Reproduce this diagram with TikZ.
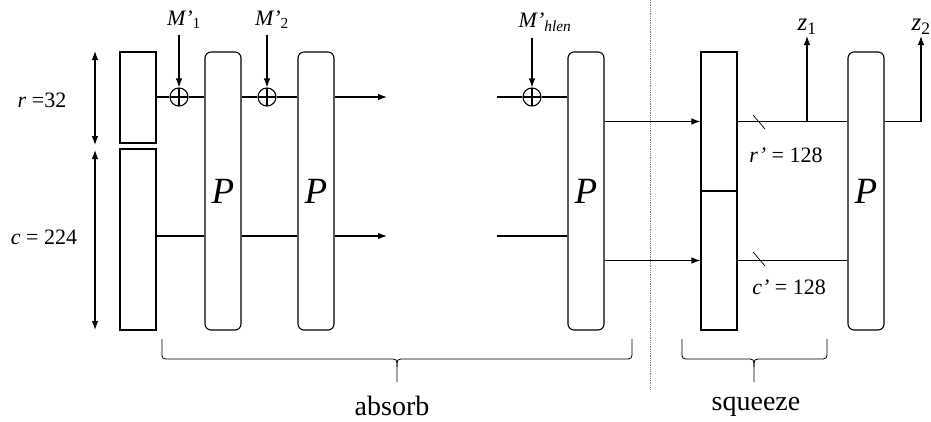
\documentclass[tikz,border=0pt]{standalone}
\usepackage{fontspec}
\setmainfont{Liberation Serif}
\usepackage{tikz}
\usetikzlibrary{arrows.meta, positioning, calc}
\newcommand{\lblsize}{\fontsize{22}{26}\selectfont}
% brace under a phase: left x, tip x, right x
\newcommand{\stagebrace}[3]{%
  \draw[line width=0.8pt] (#1,339) -- (#1,351) .. controls (#1,359) .. (#1+8,359)
    -- (#2-8,359) .. controls (#2,359) .. (#2,367) -- (#2,382);
  \draw[line width=0.8pt] (#2,367) .. controls (#2,359) .. (#2+8,359)
    -- (#3-8,359) .. controls (#3,359) .. (#3,351) -- (#3,339);
}

\begin{document}
\begin{tikzpicture}[
    x=1pt, y=-1pt, line width=1.1pt,
    lbl/.style={font=\lblsize, inner sep=1pt},
    statebox/.style={draw, minimum width=36pt, inner sep=0pt},
    perm/.style={draw, rounded corners=6pt, minimum width=36pt,
                 minimum height=278pt, inner sep=0pt,
                 font=\fontsize{37}{42}\selectfont\itshape},
    xor/.style={draw, circle, minimum size=18pt, inner sep=0pt,
                path picture={
                  \draw (path picture bounding box.north) -- (path picture bounding box.south)
                        (path picture bounding box.west) -- (path picture bounding box.east);}},
    arr/.style={-{Latex[length=9pt, width=6.5pt]}},
    dim/.style={{Latex[length=9pt, width=6.5pt]}-{Latex[length=9pt, width=6.5pt]}},
    cut/.style={line width=0.7pt},
    stagelbl/.style={font=\fontsize{28}{32}\selectfont, anchor=base, inner sep=0pt},
  ]
    \useasboundingbox (0,0) rectangle (931,421);

    % State split into rate and capacity
    \node[statebox, minimum height=91pt]  (statr) at (138,97.5)  {};
    \node[statebox, minimum height=181pt] (statc) at (138,239.5) {};
    \node[lbl] (rlbl) at (42,100) {\textit{r} =32};
    \node[lbl] (clbl) at (44,237) {\textit{c} = 224};
    \coordinate (rtop) at (95,51);
    \coordinate (rbot) at (95,145);
    \coordinate (ctop) at (95,150);
    \coordinate (cbot) at (95,330);
    \draw[dim] (rtop) -- (rbot);
    \draw[dim] (ctop) -- (cbot);

    % Permutations of the absorb phase
    \node[perm] (p1) at (223,191) {P};
    \node[perm] (p2) at (316,191) {P};
    \node[perm] (p3) at (586,191) {P};

    % Message blocks
    \node[xor] (x1) at (179,97) {};
    \node[xor] (x2) at (267,97) {};
    \node[xor] (x3) at (532,97) {};
    \node[lbl] (m1) at (184,20) {\textit{M’}\textsubscript{1}};
    \node[lbl] (m2) at (272,20) {\textit{M’}\textsubscript{2}};
    \node[lbl] (mh) at (545,22) {\textit{M’}\textsubscript{\textit{hlen}}};
    \draw[arr, shorten <=5pt] (m1.south -| x1) -- (x1.north);
    \draw[arr, shorten <=5pt] (m2.south -| x2) -- (x2.north);
    \draw[arr, shorten <=5pt] (mh.south -| x3) -- (x3.north);

    % Rate lines
    \coordinate (r2end)   at (387,97);
    \coordinate (r3start) at (497,97);
    \draw (statr.east |- x1) -- (x1.west);
    \draw (x1.east) -- (p1.west |- x1);
    \draw (p1.east |- x2) -- (x2.west);
    \draw (x2.east) -- (p2.west |- x2);
    \draw[arr] (p2.east |- r2end) -- (r2end);
    \draw (r3start) -- (x3.west);
    \draw (x3.east) -- (p3.west |- x3);

    % Capacity lines
    \coordinate (c2end)   at (387,236);
    \coordinate (c3start) at (497,236);
    \draw (statc.east |- c2end) -- (p1.west |- c2end);
    \draw (p1.east |- c2end) -- (p2.west |- c2end);
    \draw[arr] (p2.east |- c2end) -- (c2end);
    \draw (c3start) -- (p3.west |- c3start);

    % Squeeze phase
    \coordinate (septop) at (650,0);
    \coordinate (sepbot) at (650,390);
    \draw[densely dotted, gray, line width=0.8pt] (septop) -- (sepbot);
    \node[statebox, minimum height=139pt] (sqr) at (719,121.5) {};
    \node[statebox, minimum height=139pt] (sqc) at (719,260.5) {};
    \node[perm] (p4) at (866,191) {P};
    \draw[arr] (p3.east |- sqr.west) -- (sqr.west);
    \draw[arr] (p3.east |- sqc.west) -- (sqc.west);
    \draw (sqr.east) -- (p4.west |- sqr.east);
    \draw (sqc.east) -- (p4.west |- sqc.east);
    \coordinate (rcut) at (759,122);
    \coordinate (ccut) at (759,259);
    \draw[cut] ($(rcut)+(-6,-7)$) -- ($(rcut)+(6,7)$);
    \draw[cut] ($(ccut)+(-6,-7)$) -- ($(ccut)+(6,7)$);
    \node[lbl] (rp) at (786,155) {\textit{r’} = 128};
    \node[lbl] (cp) at (789,287) {\textit{c’} = 128};

    % Outputs
    \coordinate (z1tip) at (807,36);
    \coordinate (z2tip) at (921,36);
    \node[lbl, font=\fontsize{25}{28}\selectfont, above=0pt of z1tip] (z1) {\textit{z}\textsubscript{1}};
    \node[lbl, font=\fontsize{25}{28}\selectfont, above=0pt of z2tip] (z2) {\textit{z}\textsubscript{2}};
    \draw[arr] (z1tip |- sqr.east) -- (z1tip);
    \draw[arr] (p4.east |- sqr.east) -| (z2tip);

    % Phase braces
    \stagebrace{162}{397}{632}
    \stagebrace{682}{754}{827}
    \node[stagelbl] (absorb)  at (392,415) {absorb};
    \node[stagelbl] (squeeze) at (756,410) {squeeze};
  \end{tikzpicture}
\end{document}
